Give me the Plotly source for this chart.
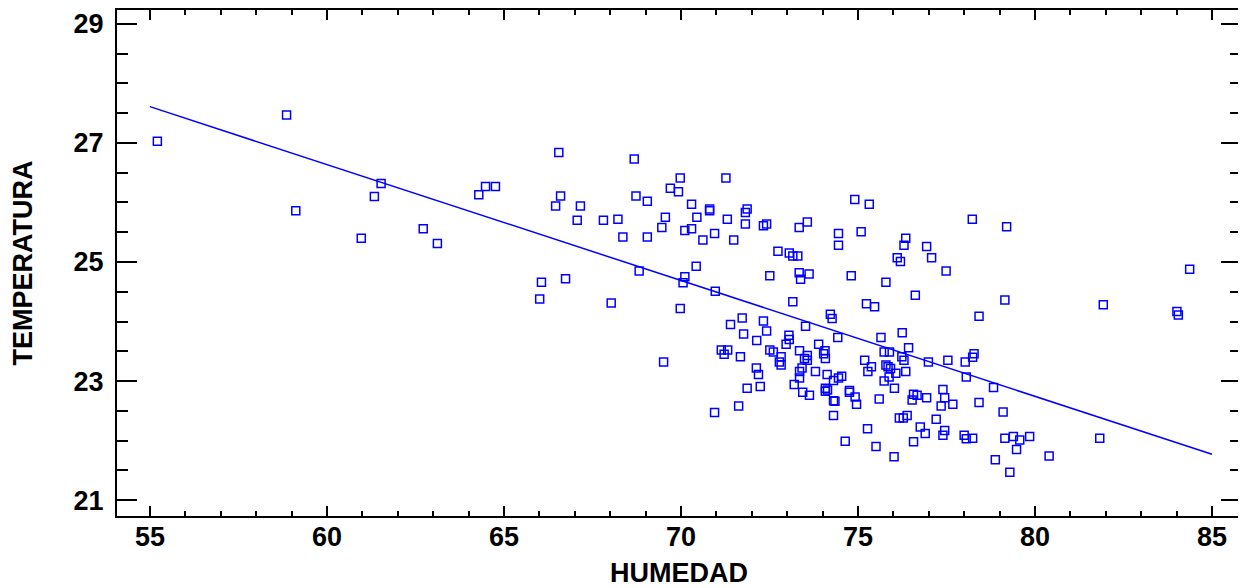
import plotly.graph_objects as go

humedad = [
    55.21, 58.86, 59.12, 60.97, 61.34, 61.53, 62.72, 63.12,
    66.55, 68.68, 64.48, 64.76, 64.29, 66.60, 66.46, 67.16, 67.07, 67.81,
    68.22, 68.73, 69.05, 69.98, 69.70, 69.93, 70.30, 69.56, 69.46, 70.11,
    70.30, 70.45, 68.36, 69.05, 70.43, 68.82, 70.11, 70.06, 66.06, 66.74,
    66.01, 68.03, 69.98, 69.51,
    71.27, 70.81, 70.81, 71.87, 71.82, 71.31, 71.82, 72.33, 72.42, 73.34,
    73.57, 70.95, 70.62, 71.49, 72.74, 73.06, 73.16, 73.30, 74.91, 75.32,
    74.45, 74.45, 75.09, 76.35, 76.30, 76.94, 76.11, 76.20, 77.08, 77.49,
    73.34, 73.62, 73.38, 72.51, 74.81, 75.79,
    78.23, 79.20, 84.37, 79.15, 81.93, 84.01, 84.05, 78.42, 78.28, 78.24,
    78.83, 78.42, 79.10, 79.15, 79.39, 79.57, 79.85, 79.48, 80.40, 78.88,
    79.29, 81.83, 78.24,
    70.97, 73.16, 74.22, 74.27, 73.52, 74.43, 71.40, 71.73, 72.33, 72.42,
    71.77, 72.14, 73.05, 73.06, 72.97, 71.14, 71.32, 71.22, 71.68, 72.51,
    72.61, 72.83, 72.78, 72.83, 73.35, 73.57, 73.49, 73.57, 73.89, 74.07,
    74.03, 74.08, 72.13, 72.19, 73.42, 73.35, 73.35, 73.80, 74.13, 74.31,
    74.45, 71.87, 72.24, 73.20, 73.44, 73.63, 74.08, 74.14, 74.08,
    74.31, 74.35, 71.63, 70.95, 74.31,
    74.54, 76.62, 75.24, 75.47, 75.65, 76.25, 76.43, 75.74, 75.89, 75.19,
    75.38, 75.28, 75.79, 75.85, 75.92, 76.07, 75.88, 75.74, 76.24, 76.30,
    76.35, 76.99, 77.54, 78.03, 78.06, 77.40, 76.03, 75.60, 74.76, 74.76,
    74.92, 76.57, 76.67, 76.94, 77.45,
    74.96, 75.27, 74.64, 75.51, 76.02, 76.53, 77.35, 77.68, 76.17, 76.28,
    76.39, 77.21, 76.76, 76.90, 77.45, 77.40, 76.57, 78.00, 78.06,
]
temperatura = [
    27.03, 27.47, 25.86, 25.40, 26.10, 26.32, 25.56, 25.31,
    26.84, 26.73, 26.27, 26.27, 26.13, 26.11, 25.94, 25.94, 25.70, 25.70,
    25.72, 26.11, 26.02, 26.41, 26.24, 26.18, 25.97, 25.75, 25.58, 25.53,
    25.56, 25.75, 25.42, 25.42, 24.93, 24.85, 24.75, 24.65, 24.66, 24.72,
    24.38, 24.31, 24.22, 23.32,
    26.41, 25.89, 25.86, 25.89, 25.83, 25.72, 25.64, 25.61, 25.64, 25.58,
    25.67, 25.48, 25.37, 25.37, 25.18, 25.15, 25.10, 25.10, 26.05, 25.97,
    25.48, 25.28, 25.51, 25.40, 25.28, 25.26, 25.07, 25.01, 25.07, 24.85,
    24.82, 24.80, 24.71, 24.77, 24.77, 24.66,
    25.72, 25.59, 24.88, 24.36, 24.28, 24.17, 24.11, 24.09, 23.46, 23.40,
    22.89, 22.64, 22.48, 22.04, 22.07, 22.01, 22.07, 21.85, 21.74, 21.68,
    21.47, 22.04, 22.04,
    24.51, 24.33, 24.12, 24.05, 23.92, 23.73, 23.95, 24.06, 24.01, 23.84,
    23.79, 23.68, 23.77, 23.70, 23.62, 23.52, 23.52, 23.45, 23.41, 23.52,
    23.49, 23.41, 23.32, 23.27, 23.51, 23.43, 23.38, 23.35, 23.62, 23.51,
    23.46, 23.38, 23.22, 23.11, 23.22, 23.16, 23.05, 23.16, 23.11, 23.01,
    23.05, 22.88, 22.91, 22.94, 22.81, 22.76, 22.88, 22.85, 22.83,
    22.67, 22.66, 22.58, 22.47, 22.42,
    23.08, 24.44, 24.30, 24.25, 23.73, 23.81, 23.56, 23.49, 23.49, 23.35,
    23.24, 23.16, 23.27, 23.24, 23.21, 23.13, 23.07, 23.00, 23.41, 23.35,
    23.16, 23.32, 23.35, 23.32, 23.07, 22.86, 22.88, 22.70, 22.84, 22.81,
    22.73, 22.78, 22.76, 22.72, 22.72,
    22.61, 22.20, 21.99, 21.90, 21.73, 22.68, 22.58, 22.61, 22.38, 22.38,
    22.42, 22.36, 22.23, 22.12, 22.17, 22.09, 21.98, 22.09, 22.03,
]

# fitted regression line (end points)
fit_x = [55.0, 85.0]
fit_y = [27.61, 21.77]

x_tick_vals = [55, 60, 65, 70, 75, 80, 85]
y_tick_vals = [21, 23, 25, 27, 29]

BLUE = "#0000FF"
FONT = "Liberation Sans, Arial, sans-serif"
TICK_FONT = dict(family=FONT, size=27, color="black", weight="bold")
TITLE_FONT = dict(family=FONT, size=27, color="black", weight="bold")

fig = go.Figure()
fig.add_trace(go.Scatter(
    x=fit_x, y=fit_y, mode="lines",
    line=dict(color=BLUE, width=1.5), showlegend=False, hoverinfo="skip",
))
fig.add_trace(go.Scatter(
    x=humedad, y=temperatura, mode="markers",
    marker=dict(symbol="square-open", size=8, color=BLUE,
                line=dict(color=BLUE, width=1.5)),
    showlegend=False,
))

axis_common = dict(
    showgrid=False, zeroline=False,
    showline=True, linecolor="black", linewidth=2,
    mirror="ticks", ticks="inside", tickcolor="black", tickwidth=2,
    tickfont=TICK_FONT,
)

fig.update_xaxes(
    range=[54.07, 85.82], tickvals=x_tick_vals, ticklen=10,
    minor=dict(dtick=1, ticks="inside", ticklen=5, tickwidth=2, tickcolor="black"),
    ticklabelstandoff=-4,
    title=dict(text="HUMEDAD", font=TITLE_FONT, standoff=17),
    **axis_common,
)
fig.update_yaxes(
    range=[20.733, 29.233], tickvals=y_tick_vals, ticklen=20,
    minor=dict(dtick=0.5, ticks="inside", ticklen=11, tickwidth=2, tickcolor="black"),
    ticklabelstandoff=6,
    title=dict(text="TEMPERATURA", font=TITLE_FONT, standoff=36),
    **axis_common,
)

# the page body has an 8px margin, so the figure is shifted by 8px
fig.update_layout(
    width=1238, height=580,
    margin=dict(l=109, r=5, t=0, b=62),
    plot_bgcolor="white", paper_bgcolor="white",
)

fig.write_html("out.html")
